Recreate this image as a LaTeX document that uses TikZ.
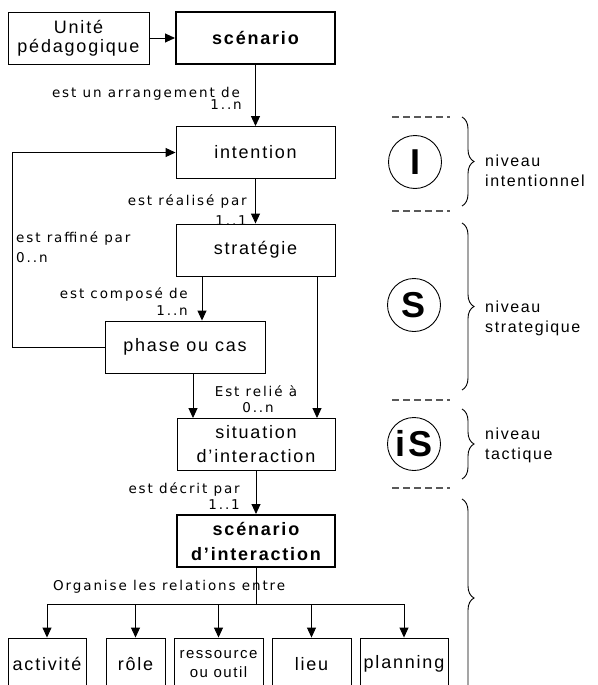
\documentclass[tikz,border=0pt]{standalone}
\usepackage{fontspec}
\setmainfont{Liberation Sans}[LetterSpace=10]
\newfontfamily\lblfont{DejaVu Sans}[LetterSpace=14]
\usetikzlibrary{arrows.meta,decorations.pathreplacing}

\begin{document}
\begin{tikzpicture}[x=1pt,y=-1pt,
  box/.style={draw, line width=0.9pt, fill=white, inner sep=0pt, minimum height=52pt, align=center, font=\fontsize{18}{20}\selectfont},
  boldbox/.style={box, line width=2pt, font=\fontsize{18}{25}\selectfont\bfseries},
  lbl/.style={inner sep=0pt, font=\lblfont\fontsize{13.5}{16}\selectfont},
  arr/.style={line width=0.9pt, -{Triangle[length=10pt,width=9pt]}},
  level/.style={draw, circle, line width=0.9pt, minimum size=53pt, inner sep=0pt, font=\fontsize{36}{36}\selectfont\bfseries},
  sep/.style={black!65, line width=1.2pt, dash pattern=on 7pt off 4pt},
  lvlbrace/.style={decorate, decoration={brace, amplitude=12pt}, line width=0.9pt},
  lvltext/.style={anchor=west, inner sep=0pt, align=left, font=\fontsize{16}{20}\selectfont}]
  \useasboundingbox (0,0) rectangle (597,685);
  \clip (0,0) rectangle (597,685);

  % Relation labels
  \node[lbl, anchor=base east] (larr) at (240,97) {est un arrangement de};
  \node[lbl, anchor=base east] (larrm) at (242,109) {1..n};
  \node[lbl, anchor=base east] (lreal) at (247,205) {est réalisé par};
  \node[lbl, anchor=base east] (lrealm) at (247,225) {1..1};
  \node[lbl, anchor=base west] (lraf) at (16,242) {est raffiné par};
  \node[lbl, anchor=base west] (lrafm) at (16,262) {0..n};
  \node[lbl, anchor=base east] (lcomp) at (188,298) {est composé de};
  \node[lbl, anchor=base east] (lcompm) at (188,315) {1..n};
  \node[lbl, anchor=base] (lrel) at (256,396) {Est relié à};
  \node[lbl, anchor=base] (lrelm) at (258,412) {0..n};
  \node[lbl, anchor=base east] (ldec) at (240,493) {est décrit par};
  \node[lbl, anchor=base east] (ldecm) at (240,509) {1..1};
  \node[lbl, anchor=base west] (lorg) at (53,590) {Organise les relations entre};

  % Boxes of the main chain
  \node[box, minimum width=141pt, font=\fontsize{18}{19}\selectfont] (unite) at (78.5,38) {Unité\\pédagogique};
  \node[boldbox, minimum width=159pt] (scenario) at (255.5,38) {scénario};
  \node[box, minimum width=159pt] (intention) at (255.5,152.5) {intention};
  \node[box, minimum width=159pt] (strategie) at (255.5,250) {stratégie};
  \node[box, minimum width=160pt] (phase) at (185,347) {phase ou cas};
  \node[box, minimum width=158pt, font=\fontsize{18}{24}\selectfont] (situation) at (256,444.5) {situation\\d’interaction};
  \node[boldbox, minimum width=158pt] (scenint) at (256,541) {scénario\\d’interaction};

  % Bottom row
  \node[box, minimum width=78pt] (activite) at (47,664) {activité};
  \node[box, minimum width=59pt] (role) at (135.5,664) {rôle};
  \node[box, minimum width=89pt, font=\fontsize{15}{19}\selectfont] (ressource) at (218.5,664) {ressource\\ou outil};
  \node[box, minimum width=79pt] (lieu) at (311.5,664) {lieu};
  \node[box, minimum width=88pt] (planning) at (404,664) {planning};

  % Arrows
  \draw[arr] (unite) -- (scenario);
  \draw[arr] (scenario) -- (intention);
  \draw[arr] (intention) -- (strategie);
  \draw[arr] ([xshift=-53.5pt]strategie.south) -- ([xshift=17pt]phase.north);
  \draw[arr] ([xshift=61.5pt]strategie.south) -- ([xshift=61pt]situation.north);
  \draw[arr] ([xshift=8pt]phase.south) -- ([xshift=-63pt]situation.north);
  \draw[arr] (phase.west) -- ++(-92,0) |- (intention.west);
  \draw[arr] (situation) -- (scenint);

  % Fan out to the bottom row
  \draw[line width=0.9pt] (scenint.south) -- ++(0,36) coordinate (bus);
  \draw[line width=0.9pt] (bus -| activite.north) -- (bus -| planning.north);
  \foreach \b in {activite,role,ressource,lieu,planning}
    \draw[arr] (bus -| \b.north) -- (\b.north);

  % Levels on the right
  \node[level] (cI) at (415,162) {I};
  \node[level] (cS) at (414,305) {S};
  \node[level] (ciS) at (414,444) {iS};
  \foreach \y in {117,211,400,488}
    \draw[sep] (392,\y) -- (450,\y);
  \draw[lvlbrace] (462,117) -- (462,206);
  \draw[lvlbrace] (462,223) -- (462,390);
  \draw[lvlbrace] (462,409) -- (462,479);
  \draw[lvlbrace] (462,499) -- (462,697);
  \node[lvltext] (tI) at (485,171) {niveau\\intentionnel};
  \node[lvltext] (tS) at (485,318) {niveau\\strategique};
  \node[lvltext] (tiS) at (485,445) {niveau\\tactique};
\end{tikzpicture}
\end{document}
